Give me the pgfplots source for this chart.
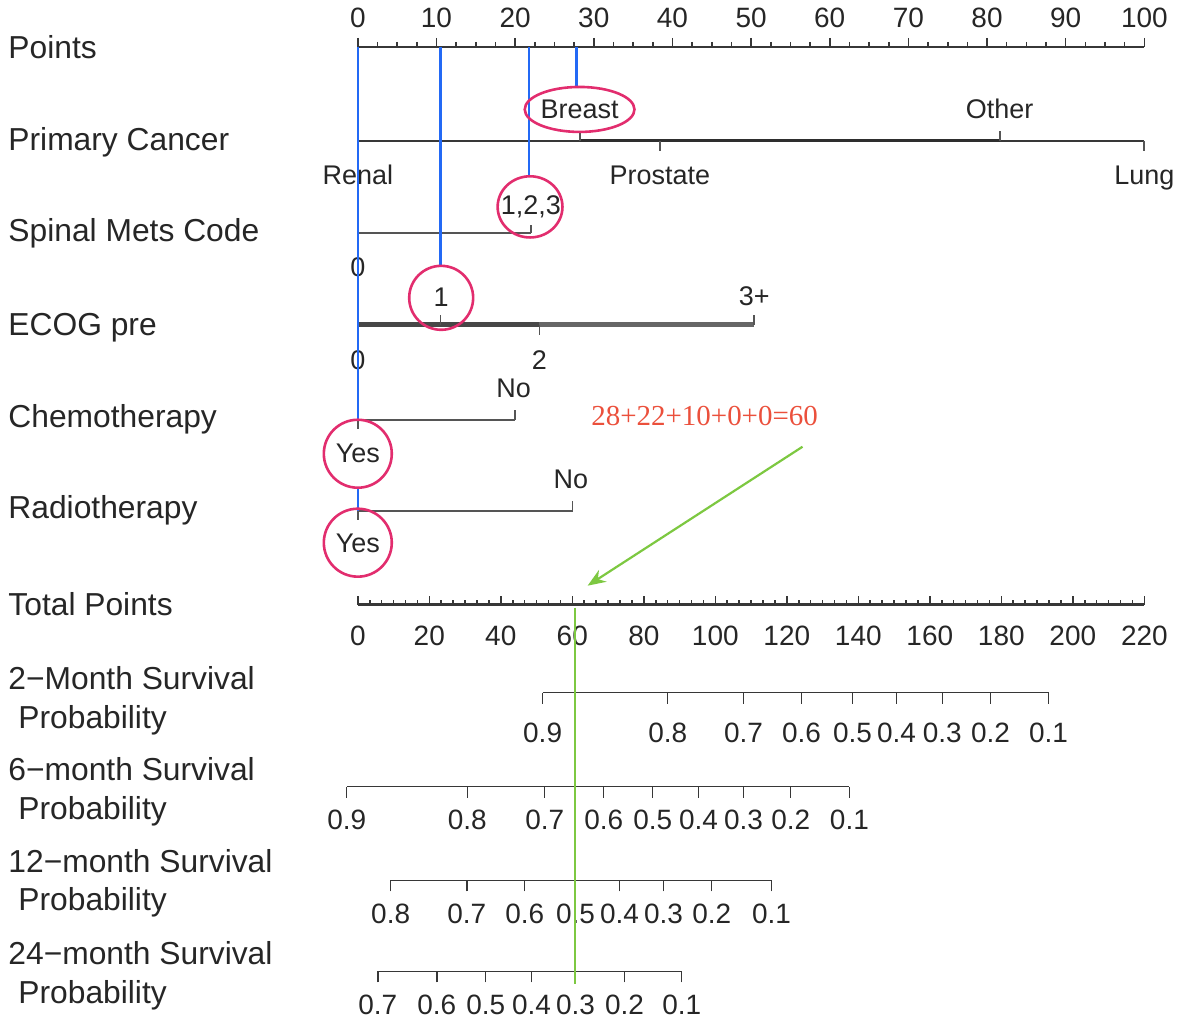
\documentclass[border=0pt]{standalone}
\usepackage{fontspec}
\setmainfont{Liberation Sans}
\newfontfamily\timesfont{Liberation Serif}
\usepackage{pgfplots}
\pgfplotsset{compat=1.18}
\usetikzlibrary{arrows.meta}

\definecolor{axgray}{RGB}{55,55,55}
\definecolor{catgray}{RGB}{85,85,85}
\definecolor{markblue}{RGB}{35,105,245}
\definecolor{ringpink}{RGB}{226,45,110}
\definecolor{sumred}{RGB}{235,80,60}
\definecolor{arrowgreen}{RGB}{125,200,65}

\newcommand{\varfont}{\fontsize{15.9}{18}\selectfont}
\newcommand{\valfont}{\fontsize{13.5}{16}\selectfont}
\newcommand{\tickfont}{\fontsize{14}{16}\selectfont}

\tikzset{
  lab/.style={font=\varfont, text=black!85, anchor=base west, inner sep=0pt},
  val/.style={font=\valfont, text=black!85, anchor=base},
}
\pgfplotsset{
  canvas/.style={
    x=3.935pt, y=0.5pt, y dir=reverse,
    xmin=-45.49, xmax=104.57, ymin=0, ymax=1027,
    hide axis, clip=false, enlargelimits=false,
    unbounded coords=jump,
  },
  scalebar/.style={
    y=1pt, ymin=0, ymax=1, ytick=\empty,
    axis y line=none, enlargelimits=false, clip=false,
    axis line style={-, draw=axgray, line width=0.9pt},
    tick style={draw=axgray, line width=0.8pt},
    tick label style={font=\tickfont, text=black!85},
    /pgf/number format/assume math mode=true,
  },
  probbar/.style={
    scalebar, x=1.78864pt, axis x line=bottom, xtick align=outside,
    major tick length=5.5pt, anchor=south west,
    axis line style={-, draw=axgray, line width=0.7pt},
    tick style={draw=axgray, line width=0.7pt},
    xticklabel style={yshift=-2.5pt},
  },
  catline/.style={draw=catgray, line width=0.8pt},
  blueline/.style={draw=markblue, line width=1.2pt},
  ring/.style={only marks, mark=o},
}

\begin{document}
\begin{tikzpicture}
% background layer: variable names, categorical scales
\begin{axis}[canvas]
\path (rel axis cs:0,0) rectangle (rel axis cs:1,1);
\coordinate (P) at (axis cs:0,47);
\coordinate (T) at (axis cs:0,605);
\coordinate (S2) at (axis cs:23.50,693);
\coordinate (S6) at (axis cs:-1.409,787);
\coordinate (S12) at (axis cs:4.182,881);
\coordinate (S24) at (axis cs:2.545,972);

\node[lab] at (axis cs:-44.47,59) {Points};
\node[lab] at (axis cs:-44.47,151) {Primary Cancer};
\node[lab] at (axis cs:-44.47,242) {Spinal Mets Code};
\node[lab] at (axis cs:-44.47,336) {ECOG pre};
\node[lab] at (axis cs:-44.47,428) {Chemotherapy};
\node[lab] at (axis cs:-44.47,519) {Radiotherapy};
\node[lab] at (axis cs:-44.47,616) {Total Points};
\node[lab] at (axis cs:-44.47,690) {2−Month Survival};
\node[lab] at (axis cs:-43.20,729) {Probability};
\node[lab] at (axis cs:-44.47,781) {6−month Survival};
\node[lab] at (axis cs:-43.20,820) {Probability};
\node[lab] at (axis cs:-44.47,873) {12−month Survival};
\node[lab] at (axis cs:-43.20,911) {Probability};
\node[lab] at (axis cs:-44.47,965) {24−month Survival};
\node[lab] at (axis cs:-43.20,1004) {Probability};

% Primary Cancer: Renal 0, Breast 28.2, Prostate 38.4, Other 81.6, Lung 100
\addplot[catline, draw=black!78, line width=1.2pt] coordinates {(0,141) (100,141)};
\addplot[catline, draw=black!82, line width=1.45pt] coordinates {(28.2,141) (81.6,141)};
\addplot[catline, line width=0.9pt] coordinates {
  (0,141) (0,151) (nan,nan) (38.4,141) (38.4,151) (nan,nan) (100,141) (100,151)
  (nan,nan) (28.2,141) (28.2,131) (nan,nan) (81.6,141) (81.6,131)};
\node[val] at (axis cs:28.2,119) {Breast};
\node[val] at (axis cs:81.6,119) {Other};
\node[val] at (axis cs:0,185) {Renal};
\node[val] at (axis cs:38.4,185) {Prostate};
\node[val] at (axis cs:100,185) {Lung};

% Spinal Mets Code: 0 -> 0, 1,2,3 -> 22
\addplot[catline] coordinates {(0,233) (22,233)};
\addplot[catline] coordinates {(0,233) (0,241) (nan,nan) (22,233) (22,225)};
\node[val] at (axis cs:22,215) {1,2,3};
\node[val] at (axis cs:0,277) {0};

% ECOG pre: 0 -> 0, 1 -> 10.5, 2 -> 23.1, 3+ -> 50.4
\addplot[catline, draw=gray!80!black, line width=2.4pt] coordinates {(0,325) (50.4,325)};
\addplot[catline, draw=black!72, line width=2.4pt] coordinates {(0,325) (23.1,325)};
\addplot[catline] coordinates {
  (0,325) (0,335) (nan,nan) (23.1,325) (23.1,335) (nan,nan)
  (10.5,325) (10.5,315) (nan,nan) (50.4,325) (50.4,315)};
\node[val] at (axis cs:10.6,307) {1};
\node[val] at (axis cs:50.4,306) {3+};
\node[val] at (axis cs:0,370) {0};
\node[val] at (axis cs:23.1,370) {2};

% Chemotherapy: Yes -> 0, No -> 20
\addplot[catline] coordinates {(0,420) (20,420)};
\addplot[catline] coordinates {(0,420) (0,429) (nan,nan) (20,420) (20,410)};
\node[val] at (axis cs:19.8,398) {No};
\node[val] at (axis cs:0,463) {Yes};

% Radiotherapy: Yes -> 0, No -> 27.3
\addplot[catline] coordinates {(0,511) (27.3,511)};
\addplot[catline] coordinates {(0,511) (0,520) (nan,nan) (27.3,511) (27.3,501)};
\node[val] at (axis cs:27.1,489) {No};
\node[val] at (axis cs:0,553) {Yes};
\end{axis}

% Points scale
\begin{axis}[scalebar, at={(P)}, anchor=north west,
  x=3.935pt, xmin=0, xmax=100, axis x line=top, xtick align=outside,
  xtick={0,10,...,100}, minor x tick num=3,
  major tick length=4.5pt, minor tick length=2.5pt,
  xticklabel style={yshift=1.5pt},
  axis line style={-, draw=axgray, line width=1.2pt}]
\end{axis}

% Total Points scale
\begin{axis}[scalebar, at={(T)}, anchor=south west,
  x=1.78864pt, xmin=0, xmax=220, axis x line=bottom, xtick align=inside,
  xtick={0,20,...,220}, minor x tick num=5,
  major tick length=4.5pt, minor tick length=2.5pt,
  xticklabel style={yshift=-7pt},
  axis line style={-, draw=axgray, line width=1.2pt}]
\end{axis}

% survival probability scales (positions in total points)
\begin{axis}[probbar, at={(S2)}, xmin=51.7, xmax=193.2,
  xtick={51.7,86.7,107.9,124.1,138.4,150.7,163.5,177.0,193.2},
  xticklabels={0.9,0.8,0.7,0.6,0.5,0.4,0.3,0.2,0.1},
  xticklabel style={yshift=-3.5pt}]
\end{axis}
\begin{axis}[probbar, at={(S6)}, xmin=-3.1, xmax=137.5,
  xtick={-3.1,30.6,52.3,68.8,82.5,95.3,107.9,121.1,137.5},
  xticklabels={0.9,0.8,0.7,0.6,0.5,0.4,0.3,0.2,0.1}]
\end{axis}
\begin{axis}[probbar, at={(S12)}, xmin=9.2, xmax=115.7,
  xtick={9.2,30.5,46.7,60.9,73.2,85.5,99.0,115.7},
  xticklabels={0.8,0.7,0.6,0.5,0.4,0.3,0.2,0.1}]
\end{axis}
\begin{axis}[probbar, at={(S24)}, xmin=5.6, xmax=90.6,
  xtick={5.6,22.1,35.8,48.6,60.9,74.6,90.6},
  xticklabels={0.7,0.6,0.5,0.4,0.3,0.2,0.1}]
\end{axis}

% foreground layer: reading lines and annotations
\begin{axis}[canvas]
\addplot[blueline] coordinates {(0,47) (0,420) (nan,nan) (0,488) (0,511)};
\addplot[blueline] coordinates {(10.5,47) (10.5,265)};
\addplot[blueline] coordinates {(21.8,47) (21.8,176)};
\addplot[blueline] coordinates {(27.8,47) (27.8,88)};

\addplot[ring, mark size=11.25pt,
  mark options={draw=ringpink, line width=1.3pt, xscale=2.44}] coordinates {(28.2,109.5)};
\addplot[ring, mark size=15.3pt,
  mark options={draw=ringpink, line width=1.3pt, xscale=1.06}] coordinates {(21.9,207)};
\addplot[ring, mark size=16pt,
  mark options={draw=ringpink, line width=1.3pt}] coordinates {(10.6,298)};
\addplot[ring, mark size=17pt,
  mark options={draw=ringpink, line width=1.3pt}] coordinates {(0,454)};
\addplot[ring, mark size=17pt,
  mark options={draw=ringpink, line width=1.3pt}] coordinates {(0,543)};

\node[font=\timesfont\fontsize{14.5}{17}\selectfont, text=sumred, anchor=base]
  at (axis cs:44.09,426) {28+22+10+0+0=60};
\addplot[draw=arrowgreen, line width=1.1pt, -{Stealth[length=9pt,width=7pt]}]
  coordinates {(56.54,447) (29.22,586)};
\addplot[draw=arrowgreen, line width=1.3pt] coordinates {(27.6,608) (27.6,985)};
\end{axis}
\end{tikzpicture}
\end{document}
